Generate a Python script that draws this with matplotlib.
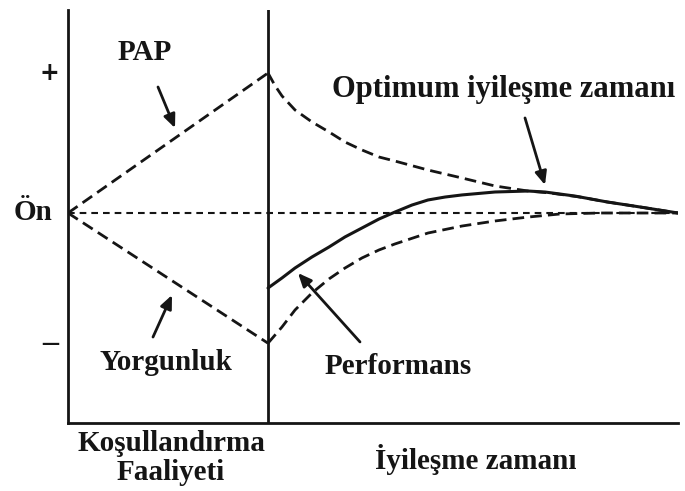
import matplotlib
matplotlib.use("Agg")
import matplotlib.pyplot as plt

# Time axis: conditioning phase runs 0..1, recovery phase 1..3.05
# Performance axis: 0 = baseline ("Ön"), +1 = peak potentiation, -0.93 = fatigue low

# Conditioning phase: potentiation (PAP) and fatigue (Yorgunluk) ramps
pap_x = [0.0, 1.0]
pap_y = [0.0, 1.0]
fatigue_x = [0.0, 1.0]
fatigue_y = [0.0, -0.93]

# Recovery phase: decay of potentiation
pap_decay_x = [1.0, 1.035, 1.07, 1.135, 1.22, 1.305, 1.385, 1.47, 1.555, 1.635,
               1.80, 1.97, 2.135, 2.30, 2.41, 2.56, 2.695, 2.86, 3.05]
pap_decay_y = [1.0, 0.91, 0.836, 0.736, 0.65, 0.579, 0.507, 0.45, 0.40, 0.371,
               0.307, 0.25, 0.193, 0.157, 0.143, 0.114, 0.079, 0.043, 0.0]

# Recovery phase: dissipation of fatigue
fatigue_rec_x = [1.0, 1.07, 1.135, 1.22, 1.305, 1.385, 1.47, 1.555, 1.635, 1.80,
                 1.97, 2.135, 2.30, 2.46, 2.66, 3.05]
fatigue_rec_y = [-0.93, -0.814, -0.693, -0.571, -0.471, -0.393, -0.321, -0.264,
                 -0.221, -0.143, -0.093, -0.057, -0.029, -0.007, 0.0, 0.0]

# Recovery phase: resulting performance
perf_x = [1.0, 1.07, 1.135, 1.22, 1.305, 1.385, 1.47, 1.555, 1.635, 1.72, 1.80,
          1.885, 1.97, 2.135, 2.30, 2.385, 2.535, 2.695, 2.86, 3.05]
perf_y = [-0.536, -0.464, -0.393, -0.314, -0.243, -0.171, -0.107, -0.043, 0.007,
          0.057, 0.093, 0.114, 0.129, 0.15, 0.157, 0.15, 0.121, 0.079, 0.043, 0.0]

baseline_y = 0.0
x_end = 3.05
phase_split = 1.0

y_ticks = [1.0, 0.0, -0.93]
y_tick_labels = ["+", "Ön", "–"]

FONT = "Liberation Serif"
FS = 21
INK = "#151515"

fig = plt.figure(figsize=(6.85, 4.91), dpi=100)
ax = fig.add_axes([68 / 685, 68 / 491, 610 / 685, 413 / 491])
ax.set_xlim(0, x_end)
ax.set_ylim(-1.5, 1.45)

for side in ("top", "right"):
    ax.spines[side].set_visible(False)
for side in ("left", "bottom"):
    ax.spines[side].set_linewidth(2.0)
    ax.spines[side].set_color(INK)
ax.set_xticks([])
ax.set_yticks([])

# phase divider
ax.axvline(phase_split, color=INK, lw=2.0)

dash_long = (0, (4.2, 2.2))
ax.plot([0, x_end], [baseline_y, baseline_y], color=INK, lw=1.5,
        linestyle=(0, (3.2, 2.4)))
for xs, ys in ((pap_x, pap_y), (fatigue_x, fatigue_y),
               (pap_decay_x, pap_decay_y), (fatigue_rec_x, fatigue_rec_y)):
    ax.plot(xs, ys, color=INK, lw=2.0, linestyle=dash_long)
ax.plot(perf_x, perf_y, color=INK, lw=2.2, solid_capstyle="round",
        solid_joinstyle="round")

# performance level markers on the left
marker_x = {"+": -0.095, "Ön": -0.175, "–": -0.09}
marker_font = {"+": ("DejaVu Sans", 17), "Ön": (FONT, FS), "–": (FONT, 23)}
for yv, lab in zip(y_ticks, y_tick_labels):
    fam, size = marker_font[lab]
    ax.text(marker_x[lab], yv, lab, ha="center", va="center", fontsize=size,
            fontfamily=fam, fontweight="bold", color=INK, clip_on=False)

txt = dict(ha="center", va="center", fontsize=FS, fontfamily=FONT,
           fontweight="bold", color=INK)
arrow = dict(arrowstyle="-|>,head_length=0.8,head_width=0.35", color=INK,
             lw=2.0, shrinkA=0, shrinkB=0)

ax.text(0.385, 1.15, "PAP", **txt)
ax.annotate("", xy=(0.535, 0.607), xytext=(0.45, 0.9), arrowprops=arrow)

ax.text(0.49, -1.07, "Yorgunluk", **txt)
ax.annotate("", xy=(0.52, -0.586), xytext=(0.425, -0.886), arrowprops=arrow)

ax.text(2.18, 0.879, "Optimum iyileşme zamanı", fontsize=22,
        **{k: v for k, v in txt.items() if k != "fontsize"})
ax.annotate("", xy=(2.385, 0.2), xytext=(2.285, 0.679), arrowprops=arrow)

ax.text(1.65, -1.1, "Performans", **txt)
ax.annotate("", xy=(1.15, -0.429), xytext=(1.46, -0.921), arrowprops=arrow)

ax.text(0.515, -1.643, "Koşullandırma", clip_on=False, **txt)
ax.text(0.515, -1.857, "Faaliyeti", clip_on=False, **txt)
ax.text(2.04, -1.764, "İyileşme zamanı", clip_on=False, **txt)

fig.savefig("out.png", dpi=100)
